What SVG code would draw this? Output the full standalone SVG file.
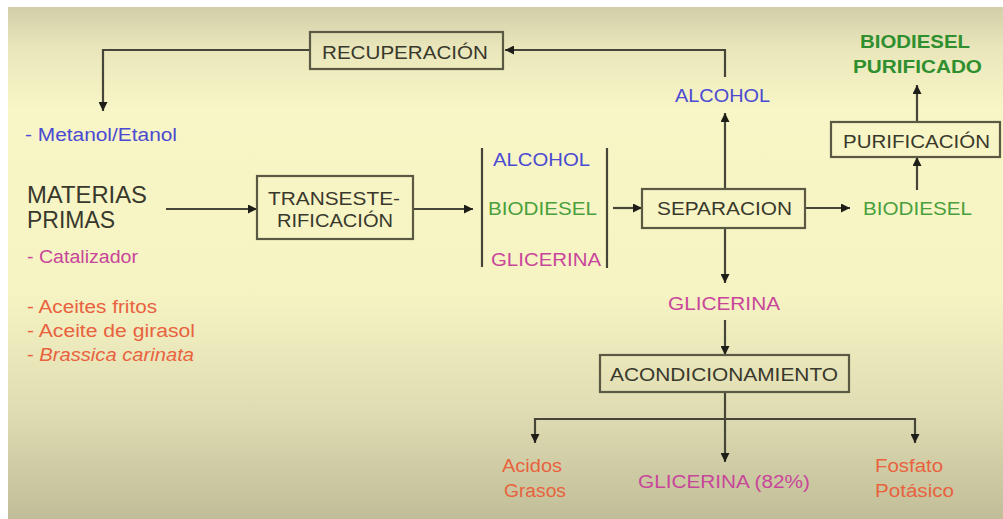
<svg xmlns="http://www.w3.org/2000/svg" width="1003" height="519" viewBox="0 0 1003 519">
<defs>
<linearGradient id="bg" x1="0" y1="0" x2="0" y2="1">
<stop offset="0" stop-color="#d2cfa9"/>
<stop offset="0.08" stop-color="#e9e6bb"/>
<stop offset="0.2" stop-color="#f8f5c6"/>
<stop offset="0.55" stop-color="#f7f4c4"/>
<stop offset="0.8" stop-color="#dedbb2"/>
<stop offset="1" stop-color="#c0bd98"/>
</linearGradient>
<marker id="ah" viewBox="0 0 10 10" refX="10" refY="5" markerWidth="9" markerHeight="9" markerUnits="userSpaceOnUse" orient="auto">
<path d="M0,0 L10,5 L0,10 Z" fill="#1e1e18"/>
</marker>
<style>
.ln{fill:none;stroke:#45453a;stroke-width:2.2}
.bx{fill:none;stroke:#5a5a44;stroke-width:2.2}
text{font-family:"Liberation Sans",Arial,sans-serif;font-size:18px}
.dk{fill:#38382c;font-size:19px}
.bl{fill:#4a4ad2}
.gr{fill:#49a03c}
.gb{fill:#2f8f2f;font-weight:bold}
.mg{fill:#c8469a}
.or{fill:#e8623e}
</style>
</defs>
<rect x="0" y="0" width="1003" height="519" fill="#ffffff"/>
<rect x="8" y="7" width="995" height="512" fill="url(#bg)"/>

<g id="connectors">
<path class="ln" d="M310,50 H103 V111" marker-end="url(#ah)"/>
<path class="ln" d="M725,77 V50 H505" marker-end="url(#ah)"/>
<path class="ln" d="M725,189 V113" marker-end="url(#ah)"/>
<path class="ln" d="M725,228 V283" marker-end="url(#ah)"/>
<path class="ln" d="M725,320 V355" marker-end="url(#ah)"/>
<path class="ln" d="M725,392 V462" marker-end="url(#ah)"/>
<path class="ln" d="M725,419 H535 V443" marker-end="url(#ah)"/>
<path class="ln" d="M725,419 H915 V443" marker-end="url(#ah)"/>
<path class="ln" d="M166,209 H257" marker-end="url(#ah)"/>
<path class="ln" d="M413,209 H473" marker-end="url(#ah)"/>
<path class="ln" d="M613,208 H642" marker-end="url(#ah)"/>
<path class="ln" d="M805,208 H850" marker-end="url(#ah)"/>
<path class="ln" d="M917,190 V157" marker-end="url(#ah)"/>
<path class="ln" d="M917,122 V85" marker-end="url(#ah)"/>
<path class="ln" d="M482,148 V267"/>
<path class="ln" d="M607,148 V268"/>
</g>

<g id="recuperacion">
<rect class="bx" x="310" y="32" width="193" height="37"/>
<text class="dk" x="322" y="59" textLength="166" lengthAdjust="spacingAndGlyphs">RECUPERACIÓN</text>
</g>
<g id="metanol">
<text class="bl" x="25" y="141" textLength="152" lengthAdjust="spacingAndGlyphs">- Metanol/Etanol</text>
</g>
<g id="materias">
<text class="dk" x="27" y="203" style="font-size:23px" textLength="120" lengthAdjust="spacingAndGlyphs">MATERIAS</text>
<text class="dk" x="27" y="228" style="font-size:23px" textLength="88" lengthAdjust="spacingAndGlyphs">PRIMAS</text>
</g>
<g id="catalizador">
<text class="mg" x="27" y="263" textLength="111" lengthAdjust="spacingAndGlyphs">- Catalizador</text>
</g>
<g id="aceites">
<text class="or" x="27" y="313" textLength="130" lengthAdjust="spacingAndGlyphs">- Aceites fritos</text>
<text class="or" x="27" y="337" textLength="168" lengthAdjust="spacingAndGlyphs">- Aceite de girasol</text>
<text class="or" x="27" y="361" textLength="167" lengthAdjust="spacingAndGlyphs">- <tspan font-style="italic">Brassica carinata</tspan></text>
</g>
<g id="transesterificacion">
<rect class="bx" x="257" y="176" width="156" height="63"/>
<text class="dk" x="268" y="205" textLength="132" lengthAdjust="spacingAndGlyphs">TRANSESTE-</text>
<text class="dk" x="277" y="227" textLength="116" lengthAdjust="spacingAndGlyphs">RIFICACIÓN</text>
</g>
<g id="mezcla">
<text class="bl" x="493" y="166" textLength="97" lengthAdjust="spacingAndGlyphs">ALCOHOL</text>
<text class="gr" x="488" y="215" textLength="109" lengthAdjust="spacingAndGlyphs">BIODIESEL</text>
<text class="mg" x="491" y="266" textLength="110" lengthAdjust="spacingAndGlyphs">GLICERINA</text>
</g>
<g id="separacion">
<rect class="bx" x="642" y="189" width="163" height="39"/>
<text class="dk" x="657" y="215" textLength="135" lengthAdjust="spacingAndGlyphs">SEPARACION</text>
</g>
<g id="alcohol">
<text class="bl" x="675" y="102" textLength="95" lengthAdjust="spacingAndGlyphs">ALCOHOL</text>
</g>
<g id="biodiesel">
<text class="gr" x="863" y="215" textLength="109" lengthAdjust="spacingAndGlyphs">BIODIESEL</text>
</g>
<g id="purificacion">
<rect class="bx" x="831" y="122" width="169" height="35"/>
<text class="dk" x="843" y="148" textLength="147" lengthAdjust="spacingAndGlyphs">PURIFICACIÓN</text>
</g>
<g id="biodiesel-purificado">
<text class="gb" x="860" y="48" textLength="110" lengthAdjust="spacingAndGlyphs">BIODIESEL</text>
<text class="gb" x="853" y="73" textLength="129" lengthAdjust="spacingAndGlyphs">PURIFICADO</text>
</g>
<g id="glicerina">
<text class="mg" x="668" y="310" textLength="112" lengthAdjust="spacingAndGlyphs">GLICERINA</text>
</g>
<g id="acondicionamiento">
<rect class="bx" x="600" y="355" width="249" height="37"/>
<text class="dk" x="610" y="381" textLength="228" lengthAdjust="spacingAndGlyphs">ACONDICIONAMIENTO</text>
</g>
<g id="acidos">
<text class="or" x="502" y="472" textLength="60" lengthAdjust="spacingAndGlyphs">Acidos</text>
<text class="or" x="504" y="497" textLength="62" lengthAdjust="spacingAndGlyphs">Grasos</text>
</g>
<g id="glicerina82">
<text class="mg" x="638" y="488" textLength="172" lengthAdjust="spacingAndGlyphs">GLICERINA (82%)</text>
</g>
<g id="fosfato">
<text class="or" x="875" y="472" textLength="68" lengthAdjust="spacingAndGlyphs">Fosfato</text>
<text class="or" x="875" y="497" textLength="79" lengthAdjust="spacingAndGlyphs">Potásico</text>
</g>
</svg>
